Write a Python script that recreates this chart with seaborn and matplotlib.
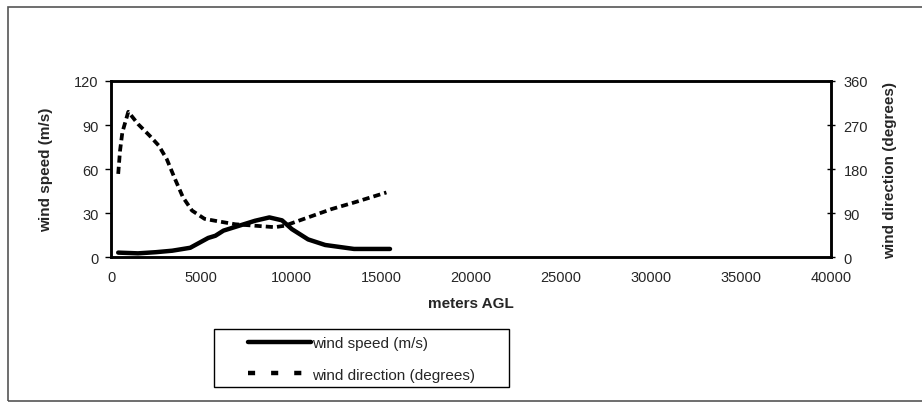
import seaborn as sns
import pandas as pd
import matplotlib.pyplot as plt
from matplotlib.patches import Rectangle
from matplotlib.lines import Line2D

sns.set_style("white")
plt.rcParams['font.family'] = ['Liberation Sans', 'DejaVu Sans']

# values
speed_height = [400, 1500, 2500, 3400, 4400, 5400, 5800, 6250, 6900, 8000, 8800, 9500,
                10050, 10950, 11900, 13500, 15500]
speed = [3, 2.5, 3.3, 4.3, 6.3, 13, 14.5, 18, 20.5, 24.7, 27, 25,
         19, 12, 8.2, 5.5, 5.5]

dir_height = [400, 500, 630, 960, 1500, 2150, 2650, 3100, 3550, 4000, 4500, 5200,
              5800, 6900, 8000, 9100, 9650, 10950, 12250, 13550, 15300]
direction = [170, 217, 255, 297, 272, 248, 228, 200, 160, 122, 95, 78,
             74, 67, 64, 61, 64, 81, 98, 112, 132]

speed_df = pd.DataFrame({"height": speed_height, "speed": speed})
dir_df = pd.DataFrame({"height": dir_height, "direction": direction})

fig = plt.figure(figsize=(9.22, 4.10), dpi=100)
ax = fig.add_axes([0.1204, 0.3707, 0.7809, 0.4293])
ax2 = ax.twinx()

sns.lineplot(ax=ax, data=speed_df, x="height", y="speed", color="black",
             linewidth=3.2, legend=False)
sns.lineplot(ax=ax2, data=dir_df, x="height", y="direction", color="black",
             linewidth=2.7, legend=False)
ax2.lines[0].set_dashes([1.9, 1.1])

ax.set_xlim(0, 40000)
ax.set_ylim(0, 120)
ax2.set_ylim(0, 360)
ax.set_xticks(range(0, 40001, 5000))
ax.set_yticks([0, 30, 60, 90, 120])
ax2.set_yticks([0, 90, 180, 270, 360])

fs = 10.5
ax.set_xlabel("meters AGL", fontsize=11, fontweight="bold", labelpad=8.5)
ax.set_ylabel("wind speed (m/s)", fontsize=11, fontweight="bold", labelpad=15)
ax2.set_ylabel("wind direction (degrees)", fontsize=11, fontweight="bold", labelpad=11)

ax.tick_params(axis="x", direction="inout", length=7, width=1, labelsize=fs, pad=6, color="black")
ax.tick_params(axis="y", direction="out", length=4, width=1, labelsize=fs, pad=5, color="black",
               left=True)
ax2.tick_params(axis="y", direction="inout", length=6, width=1, labelsize=fs, pad=6, color="black",
                right=True)

for a in (ax, ax2):
    for s in a.spines.values():
        s.set_color("black")
        s.set_linewidth(1.8)

speed_key = Line2D([], [], color="black", linewidth=3.2)
dir_key = Line2D([], [], color="black", linewidth=3.2, dashes=[1.6, 3.6])
leg = fig.legend(handles=[speed_key, dir_key],
                 labels=["wind speed (m/s)", "wind direction (degrees)"],
                 loc="upper left", bbox_to_anchor=(248 / 922, 1 - 337 / 410),
                 fontsize=11, frameon=False, handlelength=4.1, handletextpad=0.1,
                 borderpad=0, labelspacing=1.15, borderaxespad=0)

# legend box
fig.patches.append(Rectangle((214 / 922, 1 - 388 / 410), 295 / 922, 58 / 410,
                             transform=fig.transFigure, fill=False,
                             edgecolor="black", linewidth=1.0))

# outer chart frame
fig.patches.append(Rectangle((8 / 922, 8 / 410), 1.2, 394 / 410, transform=fig.transFigure,
                             fill=False, edgecolor="#555555", linewidth=1.2))

fig.savefig("out.png", dpi=100)
